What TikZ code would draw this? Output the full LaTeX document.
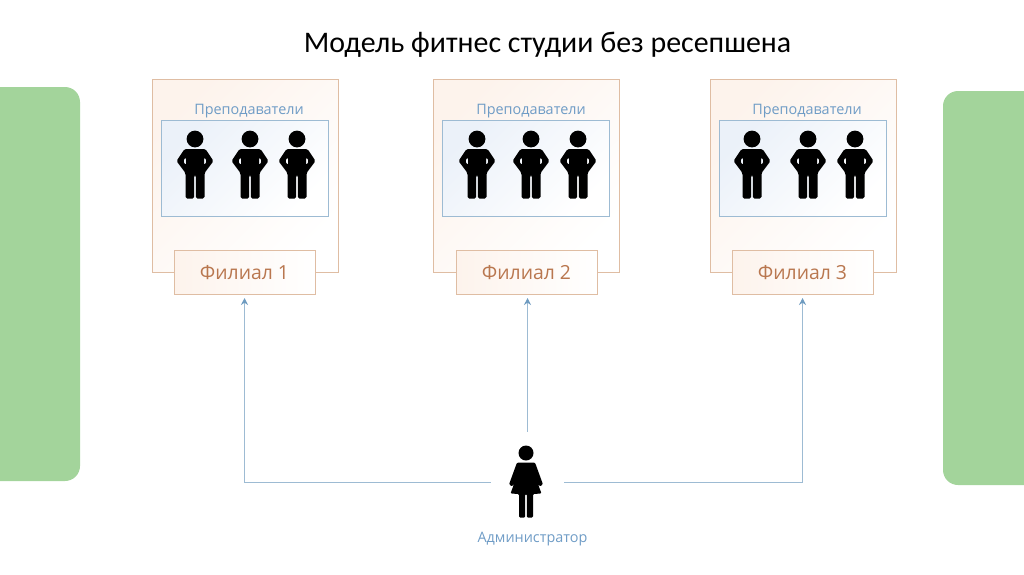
\documentclass[tikz,border=0pt]{standalone}
\usepackage{fontspec}
\setmainfont{Carlito}
\newfontfamily\labelfont{Open Sans}
\usetikzlibrary{positioning, arrows.meta}
\definecolor{panelgreen}{HTML}{A3D49B}
\definecolor{branchline}{HTML}{DFBDA3}
\definecolor{branchtint}{HTML}{FDF3EC}
\definecolor{branchtext}{HTML}{B9774F}
\definecolor{staffline}{HTML}{9DBBD3}
\definecolor{stafftint}{HTML}{EBF1F9}
\definecolor{labelblue}{HTML}{6F9CC6}
\definecolor{arrowblue}{HTML}{9DBBD3}
\definecolor{tipblue}{HTML}{6E9BC0}
\tikzset{
  branchbox/.style={rectangle, minimum width=186pt, minimum height=193pt, draw=branchline, left color=branchtint, right color=white, shading angle=45, line width=1pt},
  staffbox/.style={rectangle, minimum width=167pt, minimum height=96pt, draw=staffline, left color=stafftint, right color=white, shading angle=45, line width=1pt},
  filialbox/.style={rectangle, minimum width=141pt, minimum height=44pt, align=center, draw=branchline, left color=branchtint, right color=white, line width=1pt, text=branchtext, font=\labelfont\fontsize{19.4}{22}\selectfont},
  stafflabel/.style={text=labelblue, inner sep=0pt, font=\labelfont\fontsize{14.4}{17}\selectfont},
  arrow/.style={line width=1pt, draw=arrowblue, ->, >={Stealth[length=7pt,width=7pt,color=tipblue]}, shorten >=3pt},
  man/.pic={
    \fill[black] (0,0) circle (8.4);
    \fill[black, even odd rule, rounded corners=1.6pt] (-10.5,10) -- (10.5,10) -- (18.5,22) -- (9.5,34) -- (9.5,59.5) -- (0.8,59.5) -- (0.8,36) -- (-0.8,36) -- (-0.8,59.5) -- (-9.5,59.5) -- (-9.5,34) -- (-18.5,22) -- cycle
      (9,18) -- (12,22) -- (9,26.5) -- cycle
      (-9,18) -- (-12,22) -- (-9,26.5) -- cycle;
  },
  woman/.pic={
    \fill[black] (0,0) circle (7.5);
    \fill[black, rounded corners=1.2pt] (-9,9.5) -- (9,9.5) -- (17,31.5) -- (13.5,33.5) -- (10.5,27) -- (15.5,40.5) -- (7,41) -- (7,64.5) -- (0.8,64.5) -- (0.8,41) -- (-0.8,41) -- (-0.8,64.5) -- (-7,64.5) -- (-7,41) -- (-15.5,40.5) -- (-10.5,27) -- (-13.5,33.5) -- (-17,31.5) -- cycle;
  }
}
\begin{document}
\begin{tikzpicture}[x=1pt,y=-1pt]
        \useasboundingbox (0,0) rectangle (1024,574);

        % Боковые панели
        \fill[panelgreen] (0,87) [rounded corners=15pt] -- (80,87) -- (80,481) [sharp corners] -- (0,481) -- cycle;
        \fill[panelgreen] (1024,91) [rounded corners=15pt] -- (943,91) -- (943,485) [sharp corners] -- (1024,485) -- cycle;

        \node (title) at (547.5,45) {\fontsize{29.9}{35}\selectfont Модель фитнес студии без ресепшена};

        % Филиал 1
        \node (branch1) [branchbox] at (245,175.5) {};
        \node (staff1) [staffbox] at (244.5,168) {};
        \node (stafflabel1) [stafflabel] at (249,111) {Преподаватели};
        \node (filial1) [filialbox] at (244.5,272.5) {Филиал 1};
        \pic at (195,139) {man};
        \pic at (250,139) {man};
        \pic at (297,139) {man};

        % Филиал 2
        \node (branch2) [branchbox] at (526,175.5) {};
        \node (staff2) [staffbox] at (525.5,168) {};
        \node (stafflabel2) [stafflabel] at (531,111) {Преподаватели};
        \node (filial2) [filialbox] at (526.5,272.5) {Филиал 2};
        \pic at (477,139) {man};
        \pic at (531,139) {man};
        \pic at (578,139) {man};

        % Филиал 3
        \node (branch3) [branchbox] at (803,175.5) {};
        \node (staff3) [staffbox] at (802.5,168) {};
        \node (stafflabel3) [stafflabel] at (807,111) {Преподаватели};
        \node (filial3) [filialbox] at (802.5,272.5) {Филиал 3};
        \pic at (752,139) {man};
        \pic at (808,139) {man};
        \pic at (855,139) {man};

        % Администратор
        \node (adminfig) [minimum width=73pt, minimum height=100pt, inner sep=0pt] at (527.5,482) {};
        \pic at (526,453) {woman};
        \node (adminlabel) [stafflabel] at (532.5,539.5) {Администратор};

        % Соединения
        \draw [arrow] (adminfig.west) -| (filial1.south);
        \draw [arrow] (adminfig.north) -- (adminfig.north |- filial2.south);
        \draw [arrow] (adminfig.east) -| (filial3.south);

\end{tikzpicture}
\end{document}
